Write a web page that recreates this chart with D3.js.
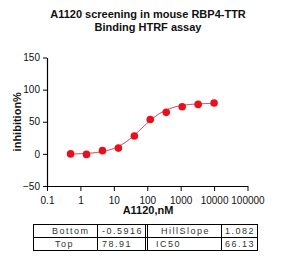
<!DOCTYPE html>
<html><head><meta charset="utf-8">
<script src="https://cdn.jsdelivr.net/npm/d3@7"></script>
<style>
html,body{margin:0;padding:0;background:#fff;}
svg{display:block;font-family:Arial,"Liberation Sans",sans-serif;}
</style></head>
<body>
<svg id="chart" width="281" height="260"></svg>
<script>
// ---- data ----
const titleLines = ["A1120 screening in mouse RBP4-TTR", "Binding HTRF assay"];
const concentrations = [0.508, 1.52, 4.57, 13.7, 41.2, 123, 370, 1111, 3333, 10000];
const inhibition = [0.0, -0.8, 5.0, 9.0, 27.8, 53.6, 64.6, 73.4, 77.0, 79.2];
const xTicks = [0.1, 1, 10, 100, 1000, 10000, 100000];
const xTickLabels = ["0.1", "1", "10", "100", "1000", "10000", "100000"];
const yTicks = [-50, 0, 50, 100, 150];
const xTitle = "A1120,nM";
const yTitle = "inhibition%";
const paramNames = ["Bottom", "Top", "HillSlope", "IC50"];
const paramLabels = ["-0.5916", "78.91", "1.082", "66.13"];
const paramValues = [-0.5916, 78.91, 1.082, 66.13];

// ---- layout ----
const svg = d3.select("#chart");
const x = d3.scaleLog().domain([0.1, 100000]).range([47, 247.5]);
const y = d3.scaleLinear().domain([-50, 150]).range([186, 57.5]);

// title
svg.append("g").selectAll("text").data(titleLines).join("text")
  .attr("x", 148).attr("y", (d, i) => 18 + i * 13)
  .attr("text-anchor", "middle").attr("font-size", "11px").attr("font-weight", "bold")
  .attr("fill", "#111").text(d => d);

// axes
const xAxis = d3.axisBottom(x).tickValues(xTicks).tickFormat((d, i) => xTickLabels[i]).tickSize(5).tickSizeOuter(0);
const gx = svg.append("g").attr("transform", `translate(0,${y(-50)})`).call(xAxis);
gx.selectAll("text").attr("font-size", "10px").attr("fill", "#111").attr("dy", "0.95em");
gx.select(".domain").attr("stroke", "#000").attr("stroke-width", 1.2);
gx.selectAll(".tick line").attr("stroke", "#000");

const yAxis = d3.axisLeft(y).tickValues(yTicks).tickSize(4).tickSizeOuter(0);
const gy = svg.append("g").attr("transform", `translate(${x(0.1)},0)`).call(yAxis);
gy.selectAll("text").attr("font-size", "10px").attr("fill", "#111");
gy.select(".domain").attr("stroke", "#000").attr("stroke-width", 1.2);
gy.selectAll(".tick line").attr("stroke", "#000");

// axis titles
svg.append("text").attr("x", 148).attr("y", 214).attr("text-anchor", "middle")
  .attr("font-size", "11px").attr("font-weight", "bold").attr("fill", "#111").text(xTitle);
svg.append("text").attr("transform", `translate(21,${y(50)}) rotate(-90)`).attr("text-anchor", "middle")
  .attr("font-size", "11px").attr("font-weight", "bold").attr("fill", "#111").text(yTitle);

// fitted 4PL curve from the table parameters
const [pBottom, pTop, pHill, pIC50] = paramValues;
const fit = c => pBottom + (pTop - pBottom) / (1 + Math.pow(pIC50 / c, pHill));
const lo = Math.log10(concentrations[0]);
const hi = Math.log10(concentrations[concentrations.length - 1]);
const curveX = d3.range(0, 201).map(i => Math.pow(10, lo + i / 200 * (hi - lo)));
svg.append("path").datum(curveX)
  .attr("fill", "none").attr("stroke", "#cc2a48").attr("stroke-width", 1)
  .attr("d", d3.line().x(d => x(d)).y(d => y(fit(d))));

// points
svg.append("g").selectAll("circle").data(concentrations).join("circle")
  .attr("cx", d => x(d)).attr("cy", (d, i) => y(inhibition[i])).attr("r", 3.8)
  .attr("fill", "#e8101a");

// parameter table
const tbl = svg.append("g").attr("stroke", "#000").attr("stroke-width", 1).attr("fill", "none");
const tL = 33.5, tR = 257.5, tT = 224.5, tM = 237.5, tB = 250.5;
tbl.append("rect").attr("x", tL).attr("y", tT).attr("width", tR - tL).attr("height", tB - tT);
tbl.append("line").attr("x1", tL).attr("x2", tR).attr("y1", tM).attr("y2", tM);
[97.5, 145.5, 147.5, 221.5].forEach(cx => tbl.append("line").attr("x1", cx).attr("x2", cx).attr("y1", tT).attr("y2", tB));

const cellPos = [[52, 233.5], [55, 246.5], [161, 233.5], [156, 246.5]];
const valPos = [[102, 233.5], [102, 246.5], [225, 233.5], [225, 246.5]];
const tg = svg.append("g").attr("font-size", "9px").attr("fill", "#333").attr("letter-spacing", "1.5px");
paramNames.forEach((n, i) => {
  tg.append("text").attr("x", cellPos[i][0]).attr("y", cellPos[i][1]).text(n);
  tg.append("text").attr("x", valPos[i][0]).attr("y", valPos[i][1]).text(paramLabels[i]);
});
</script>
</body></html>
